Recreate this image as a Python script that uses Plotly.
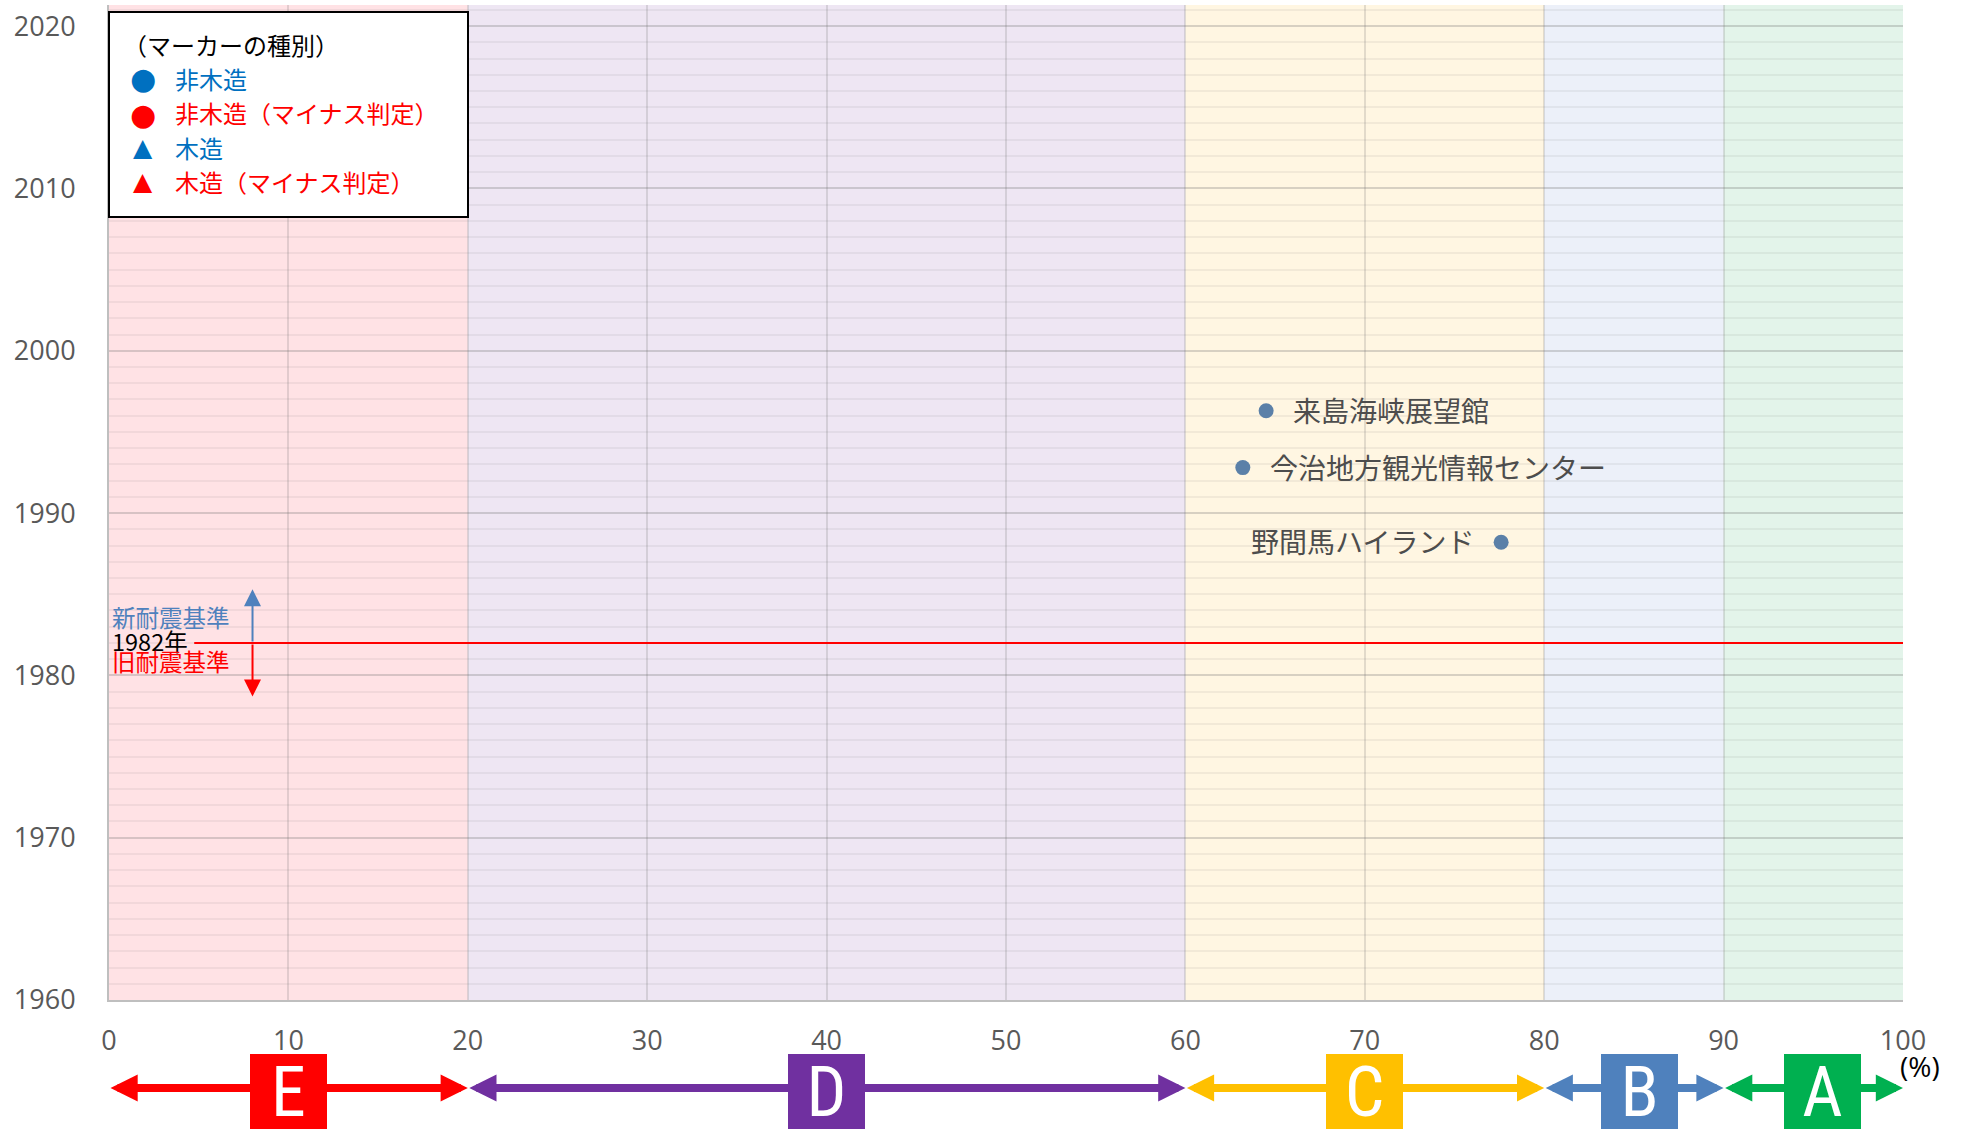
import plotly.graph_objects as go

# ---------------- data ----------------
band_labels = ["E", "D", "C", "B", "A"]
band_lo = [0, 20, 60, 80, 90]
band_hi = [20, 60, 80, 90, 100]
band_fill = ["#FFE2E5", "#EEE6F3", "#FFF6E2", "#ECF0F9", "#E3F4EA"]
band_strong = ["#FF0000", "#7030A0", "#FFC000", "#4F81BD", "#00B050"]
band_label_pos = [10, 40, 70, 85.3, 95.5]

x_ticks = [0, 10, 20, 30, 40, 50, 60, 70, 80, 90, 100]
x_ticktext = ["0", "10", "20", "30", "40", "50", "60", "70", "80", "90", "100"]
y_ticks = [1960, 1970, 1980, 1990, 2000, 2010, 2020]
y_ticktext = ["1960", "1970", "1980", "1990", "2000", "2010", "2020"]

facility_names = ["来島海峡展望館", "今治地方観光情報センター", "野間馬ハイランド"]
facility_pct = [64.5, 63.2, 77.6]
facility_year = [1996.3, 1992.8, 1988.2]
facility_side = ["right", "right", "left"]

quake_year = 1982
legend_title = "（マーカーの種別）"
legend_symbols = ["●", "●", "▲", "▲"]
legend_texts = ["非木造", "非木造（マイナス判定）", "木造", "木造（マイナス判定）"]
legend_colors = ["#0070C0", "#FF0000", "#0070C0", "#FF0000"]

JP = "Noto Sans CJK JP"
NUM = "Open Sans"
LETTER = "Liberation Sans Narrow, Roboto Condensed, Open Sans"

# ---------------- figure ----------------
W, H = 1967, 1133
L, R, T, B = 109, 64, 5, 133
plot_h = H - T - B
Y0, Y1 = 1960, 2021.3


def py(px):
    """page pixel y -> paper y"""
    return (H - B - px) / plot_h


def px_(px):
    return (px - L) / (W - L - R)


fig = go.Figure()

fig.add_trace(go.Scatter(
    x=facility_pct, y=facility_year, mode="markers",
    marker=dict(size=15, color="#5B80A8"),
    hoverinfo="skip", showlegend=False,
))

shapes = []
for lo, hi, c in zip(band_lo, band_hi, band_fill):
    shapes.append(dict(type="rect", xref="x", yref="y", x0=lo, x1=hi, y0=Y0, y1=Y1,
                       fillcolor=c, line=dict(width=0), layer="below"))

# 1982 line
shapes.append(dict(type="line", xref="x", yref="y", x0=4.75, x1=100,
                   y0=quake_year, y1=quake_year, line=dict(color="#FF0000", width=2),
                   layer="above"))

# legend box
shapes.append(dict(type="rect", xref="paper", yref="paper",
                   x0=px_(109), x1=px_(468), y0=py(217), y1=py(12),
                   fillcolor="white", line=dict(color="black", width=2), layer="above"))

annotations = []
# facility labels
for n, xv, yv, side in zip(facility_names, facility_pct, facility_year, facility_side):
    annotations.append(dict(
        x=xv, y=yv, xref="x", yref="y", text=n, showarrow=False,
        xanchor="left" if side == "right" else "right",
        xshift=25 if side == "right" else -25, yshift=1,
        font=dict(family=JP, size=28, color="#4D4D4D")))

# legend contents
annotations.append(dict(x=px_(121), y=py(44), xref="paper", yref="paper", text=legend_title,
                        showarrow=False, xanchor="left", yanchor="middle",
                        font=dict(family=JP, size=24, color="black")))
rows_y = [78, 113, 147, 181]
for sym, txt, col, ry in zip(legend_symbols, legend_texts, legend_colors, rows_y):
    annotations.append(dict(x=px_(143), y=py(ry + (1 if sym == "●" else 0)), xref="paper", yref="paper",
                            text=sym, showarrow=False, xanchor="center", yanchor="middle",
                            font=dict(family="DejaVu Sans", size=30 if sym == "●" else 25, color=col)))
    annotations.append(dict(x=px_(173), y=py(ry), xref="paper", yref="paper", text=txt,
                            showarrow=False, xanchor="left", yanchor="middle",
                            font=dict(family=JP, size=24, color=col)))

# 1982 texts
annotations.append(dict(x=px_(110), y=quake_year, xref="paper", yref="y", text="1982年",
                        showarrow=False, xanchor="left", yanchor="middle", yshift=2,
                        font=dict(family=JP, size=23.5, color="black")))
annotations.append(dict(x=px_(110), y=py(617), xref="paper", yref="paper", text="新耐震基準",
                        showarrow=False, xanchor="left", yanchor="middle",
                        font=dict(family=JP, size=23.5, color="#4F81BD")))
annotations.append(dict(x=px_(110), y=py(661), xref="paper", yref="paper", text="旧耐震基準",
                        showarrow=False, xanchor="left", yanchor="middle",
                        font=dict(family=JP, size=23.5, color="#FF0000")))
# vertical arrows
annotations.append(dict(x=8, y=1985.3, ax=8, ay=quake_year, xref="x", yref="y", axref="x", ayref="y",
                        text="", showarrow=True, arrowhead=2, arrowsize=1.7, arrowwidth=2,
                        arrowcolor="#4F81BD", standoff=0, startstandoff=0))
annotations.append(dict(x=8, y=1978.7, ax=8, ay=quake_year, xref="x", yref="y", axref="x", ayref="y",
                        text="", showarrow=True, arrowhead=2, arrowsize=1.7, arrowwidth=2,
                        arrowcolor="#FF0000", standoff=0, startstandoff=0))

# bottom double arrows
for lo, hi, c in zip(band_lo, band_hi, band_strong):
    annotations.append(dict(x=hi, y=py(1088), xref="x", yref="paper", ax=lo, ay=0,
                            axref="x", ayref="pixel", text="", showarrow=True,
                            arrowhead=2, startarrowhead=2, arrowside="end+start",
                            arrowsize=0.68, startarrowsize=0.68, arrowwidth=8, arrowcolor=c,
                            standoff=0, startstandoff=0))
# letter boxes
for lab, pos, c in zip(band_labels, band_label_pos, band_strong):
    annotations.append(dict(x=pos, y=py(1091), xref="x", yref="paper", text=lab,
                            showarrow=False, xanchor="center", yanchor="middle",
                            width=77, height=75, bgcolor=c, borderpad=0, borderwidth=0,
                            font=dict(family=LETTER, size=70, color="white")))
annotations.append(dict(x=px_(1920), y=py(1066), xref="paper", yref="paper", text="(%)",
                        showarrow=False, xanchor="center", yanchor="middle",
                        font=dict(family=NUM, size=28, color="black")))

fig.update_layout(
    width=W, height=H,
    margin=dict(l=L, r=R, t=T, b=B, autoexpand=False),
    plot_bgcolor="white", paper_bgcolor="white",
    shapes=shapes, annotations=annotations, showlegend=False,
    xaxis=dict(range=[0, 100], tickvals=x_ticks, ticktext=x_ticktext,
               showgrid=True, gridcolor="rgba(110,110,110,0.2)", gridwidth=2,
               zeroline=False, showline=True, linecolor="#BFBFBF", linewidth=2,
               ticks="", ticklabelstandoff=16, automargin=False,
               tickfont=dict(family=NUM, size=27, color="#595959")),
    yaxis=dict(range=[Y0, Y1], tickvals=y_ticks, ticktext=y_ticktext,
               showgrid=True, gridcolor="rgba(110,110,110,0.2)", gridwidth=2,
               minor=dict(dtick=1, tick0=1960, showgrid=True,
                          gridcolor="rgba(110,110,110,0.09)", gridwidth=2),
               zeroline=False, showline=True, linecolor="#BFBFBF", linewidth=2,
               ticks="", ticklabelstandoff=26, automargin=False,
               tickfont=dict(family=NUM, size=27, color="#595959")),
)

fig.write_html("out.html", config={"displayModeBar": False},
               post_script="document.body.style.margin='0';")
